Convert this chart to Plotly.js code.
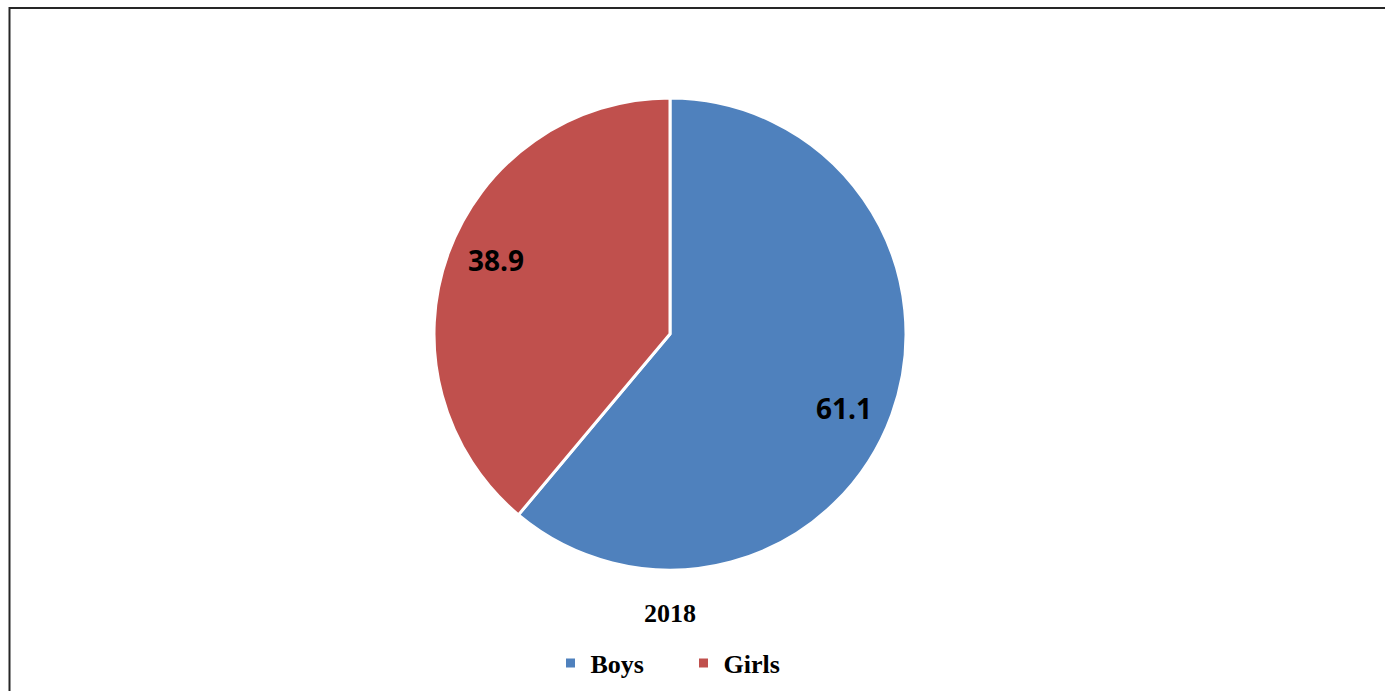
<!DOCTYPE html>
<html>
<head>
<meta charset="utf-8">
<script src="https://cdn.plot.ly/plotly-3.0.1.min.js"></script>
<style>html,body{margin:0;padding:0;background:#fff;}#chart{width:1385px;height:691px;}</style>
</head>
<body>
<div id="chart"></div>
<script>
const categories = ["Boys", "Girls"];
const values = [61.1, 38.9];
const sliceColors = ["#4F81BD", "#C0504D"];
const chartTitle = "2018";

const W = 1385, H = 691;
const cx = 670, cy = 334, R = 236;
const labelRadius = 0.8;     // fraction of radius where value labels sit
const labelAngleShift = 3;   // degrees, label placement tweak

const trace = {
  type: "pie",
  labels: categories,
  values: values,
  textinfo: "none",
  sort: false,
  direction: "clockwise",
  rotation: 0,
  hole: 0,
  marker: { colors: sliceColors, line: { color: "#ffffff", width: 3 } },
  domain: { x: [(cx - R) / W, (cx + R) / W], y: [1 - (cy + R) / H, 1 - (cy - R) / H] },
  hoverinfo: "label+value"
};

// value labels placed along each slice's mid-angle (derived from the data)
const total = values.reduce((a, b) => a + b, 0);
let cum = 0;
const valueLabels = values.map(v => {
  const mid = (cum + v / 2) / total * 360 + labelAngleShift;
  cum += v;
  const rad = mid * Math.PI / 180;
  const px = cx + labelRadius * R * Math.sin(rad);
  const py = cy - labelRadius * R * Math.cos(rad);
  return {
    text: v.toFixed(1),
    xref: "paper", yref: "paper",
    x: px / W, y: 1 - py / H,
    xanchor: "center", yanchor: "middle",
    showarrow: false,
    font: { family: "Open Sans", size: 28, color: "#000000", weight: "bold" }
  };
});

const layout = {
  width: W, height: H,
  margin: { l: 0, r: 0, t: 0, b: 0 },
  paper_bgcolor: "#ffffff",
  showlegend: true,
  legend: {
    orientation: "h",
    x: (W / 2 - 9) / W, xanchor: "center",
    y: 1 - 663 / H, yanchor: "middle",
    font: { family: "Liberation Serif", size: 26, color: "#000000", weight: "bold" },
    traceorder: "normal",
    entrywidth: 88,
    entrywidthmode: "pixels"
  },
  annotations: [{
    text: "<b>" + chartTitle + "</b>",
    xref: "paper", yref: "paper",
    x: 670 / W, y: 1 - 613 / H,
    xanchor: "center", yanchor: "middle",
    showarrow: false,
    font: { family: "Liberation Serif", size: 26, color: "#000000" }
  }].concat(valueLabels),
  shapes: [{
    type: "rect", xref: "paper", yref: "paper",
    x0: 9.5 / W, x1: 1.01, y0: -0.01, y1: 1 - 8 / H,
    line: { color: "#262626", width: 2 }
  }]
};

Plotly.newPlot("chart", [trace], layout, { displayModeBar: false, staticPlot: true });
</script>
</body>
</html>
